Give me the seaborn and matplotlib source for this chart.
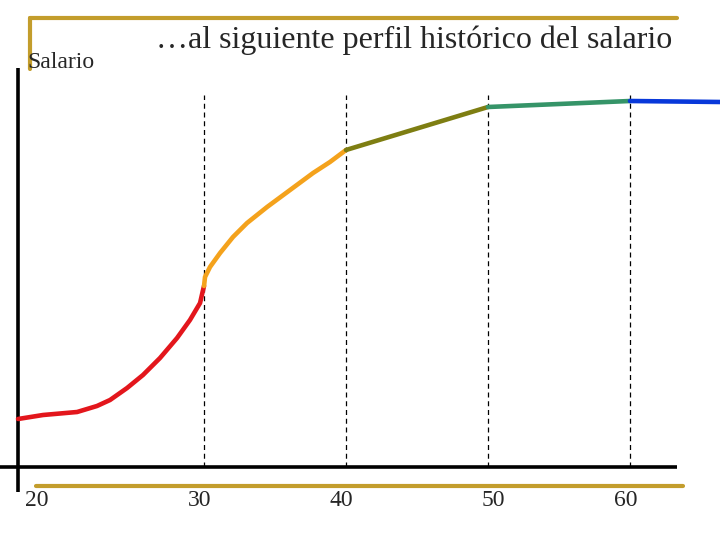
import matplotlib
matplotlib.use("Agg")
import matplotlib.pyplot as plt
from matplotlib.lines import Line2D
import seaborn as sns

# salary profile by age (arbitrary salary units)
red_age = [16.9, 18.66, 21.06, 22.46, 23.38, 24.58, 25.7, 26.9, 28.1, 29.01, 29.72, 29.93, 30.0]
red_sal = [48, 52, 55, 61, 67, 79, 92, 109, 129, 147, 164, 177, 181]
orange_age = [30.0, 30.07, 30.42, 31.13, 32.04, 33.03, 34.44, 36.06, 37.68, 38.87, 40.0]
orange_sal = [181, 190, 200, 214, 230, 244, 260, 277, 294, 305, 317]
olive_age = [40, 50]
olive_sal = [317, 360]
green_age = [50, 60]
green_sal = [360, 366]
blue_age = [60, 66.4]
blue_sal = [366, 365]

ticks = [20, 30, 40, 50, 60]
tick_labels = ["20", "30", "40", "50", "60"]
title = "…al siguiente perfil histórico del salario"
ylabel = "Salario"

sns.set_style("white")
plt.rcParams["font.family"] = ["Liberation Serif", "DejaVu Serif"]

fig = plt.figure(figsize=(7.2, 5.4), dpi=100)
ax = fig.add_axes([0, 0, 1, 1])
ax.set_xlim(15.63, 66.34)
ax.set_ylim(-73, 467)
ax.axis("off")

# dashed guides at each decade
for t in ticks[1:]:
    ax.plot([t, t], [0, 372], color="black", lw=0.9, ls=(0, (4, 3)))

# axes
x_axis = 16.9
ax.plot([15.63, 63.3], [0, 0], color="black", lw=2.6, solid_capstyle="butt")
ax.plot([x_axis, x_axis], [-25, 399], color="black", lw=2.6, solid_capstyle="butt")

segs = [
    (red_age, red_sal, "#E3161C"),
    (orange_age, orange_sal, "#F4A21C"),
    (olive_age, olive_sal, "#7E7E12"),
    (green_age, green_sal, "#359468"),
    (blue_age, blue_sal, "#0838DA"),
]
for xs, ys, c in segs:
    sns.lineplot(x=xs, y=ys, color=c, lw=3.3, ax=ax, sort=False)

# tick labels (hand placed on the slide)
nudge = {20: None, 30: -0.3, 40: -0.3, 50: 0.4, 60: -0.3}
for t, lab in zip(ticks, tick_labels):
    xpos = x_axis + 1.35 if nudge[t] is None else t + nudge[t]
    ax.text(xpos, -34, lab, ha="center", va="center", fontsize=17)

# slide decoration
gold = "#C39D2C"
fig.add_artist(Line2D([0.0417, 0.940], [0.9667, 0.9667], color=gold, lw=3))
fig.add_artist(Line2D([0.0417, 0.0417], [0.9667, 0.872], color=gold, lw=3))
fig.add_artist(Line2D([0.05, 0.9486], [0.1, 0.1], color=gold, lw=3))

fig.text(414 / 720, 1 - 48 / 540, title, ha="center", va="baseline", fontsize=23)
fig.text(27 / 720, 1 - 68 / 540, ylabel, ha="left", va="baseline", fontsize=17)

fig.savefig("out.png", dpi=100)
